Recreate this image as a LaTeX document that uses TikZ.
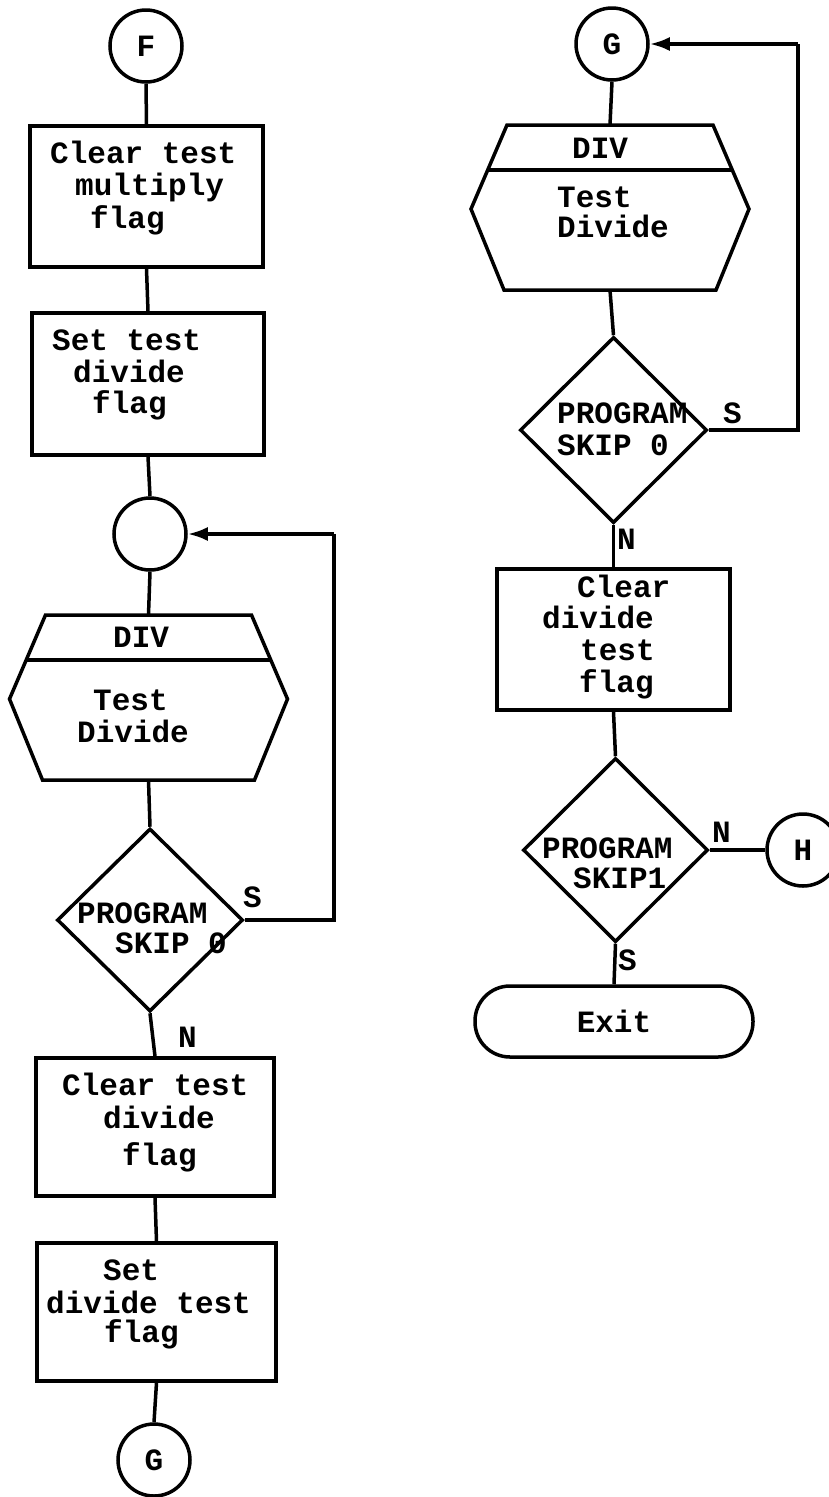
\documentclass[tikz,border=0pt]{standalone}
\usepackage{fontspec}
\newfontfamily\tw{Liberation Mono}
\usetikzlibrary{shapes.geometric,arrows.meta,calc}
\newcommand\drawhex[1]{%
  \draw[ln] ($(#1)+(-103,-82.5)$) -- ($(#1)+(103,-82.5)$) -- ($(#1)+(139,1.5)$)
    -- ($(#1)+(106,82.5)$) -- ($(#1)+(-106,82.5)$) -- ($(#1)+(-139,1.5)$) -- cycle;
  \draw[ln] ($(#1)+(-122.3,-37.5)$) -- ($(#1)+(122.3,-37.5)$);}
\begin{document}
\begin{tikzpicture}[x=1pt,y=-1pt,
  ln/.style={line width=3.5pt, line join=miter},
  fnt/.style={font=\tw\bfseries\fontsize{31}{32}\selectfont},
  box/.style={draw, line width=3.5pt, rectangle, inner sep=0},
  conn/.style={draw, circle, line width=3.5pt, minimum size=72pt, inner sep=0, fnt},
  dia/.style={draw, diamond, line width=3.5pt, inner sep=0},
  hexn/.style={minimum width=278pt, minimum height=165pt, inner sep=0},
  tx/.style={anchor=base west, inner sep=0, fnt},
  arr/.style={line width=3.5pt, -{Latex[length=20pt,width=14pt]}},
]
\clip (0,0) rectangle (829,1497);
\fill[white] (0,0) rectangle (829,1497);

% ---------- left column ----------
\node[conn] (F) at (146,46) {F};
\node[box, minimum width=233pt, minimum height=141pt] (b1) at (146.5,196.5) {};
\node[box, minimum width=232pt, minimum height=142pt] (b2) at (148,384) {};
\node[conn] (c2) at (150,534) {};
\node[hexn] (h1) at (148.5,697.5) {};
\drawhex{h1}
\node[dia, minimum width=186pt, minimum height=183pt] (d1) at (150,920) {};
\node[box, minimum width=238pt, minimum height=138pt] (b3) at (155,1127) {};
\node[box, minimum width=239pt, minimum height=138pt] (b4) at (156.5,1312) {};
\node[conn] (G1) at (154,1460) {G};

\node[tx] (t1a) at (50,163) {Clear test};
\node[tx] (t1b) at (75,195) {multiply};
\node[tx] (t1c) at (90,228) {flag};
\node[tx] (t2a) at (52,350) {Set test};
\node[tx] (t2b) at (73,382) {divide};
\node[tx] (t2c) at (92,413) {flag};
\node[tx] (t3a) at (113,647) {DIV};
\node[tx] (t3b) at (93,710) {Test};
\node[tx] (t3c) at (77,742) {Divide};
\node[tx] (t4a) at (77,923) {PROGRAM};
\node[tx] (t4b) at (115,953) {SKIP 0};
\node[tx] (t5a) at (62,1095) {Clear test};
\node[tx] (t5b) at (103,1128) {divide};
\node[tx] (t5c) at (122,1165) {flag};
\node[tx] (t6a) at (103,1280) {Set};
\node[tx] (t6b) at (46,1313) {divide test};
\node[tx] (t6c) at (104,1342) {flag};
\node[tx] (lS1) at (243,907) {S};
\node[tx] (lN1) at (178,1047) {N};

\draw[ln] (F.south) -- (b1.north);
\draw[ln] (b1.south) -- (b2.north);
\draw[ln] (b2.south) -- (c2.north);
\draw[ln] (c2.south) -- (h1.north);
\draw[ln] (h1.south) -- (d1.north);
\draw[ln] (d1.south) -- (b3.north);
\draw[ln] (b3.south) -- (b4.north);
\draw[ln] (b4.south) -- (G1.north);
\coordinate (lp1) at (334,534);
\draw[ln] (d1.east) -| (lp1);
\draw[arr] (lp1) -- (c2.east);

% ---------- right column ----------
\node[conn] (G2) at (612,44) {G};
\node[hexn] (h2) at (610,207.5) {};
\drawhex{h2}
\node[dia, minimum width=187pt, minimum height=186pt] (d2) at (613.5,430) {};
\node[box, minimum width=233pt, minimum height=141pt] (b5) at (613.5,639.5) {};
\node[dia, minimum width=185pt, minimum height=184pt] (d3) at (615.5,850) {};
\node[conn] (H) at (803,850) {H};
\node[draw, line width=3.5pt, rectangle, rounded corners=35pt, minimum width=278pt, minimum height=71pt, inner sep=0, fnt] (ex) at (614,1021.5) {Exit};

\node[tx] (t7a) at (572,158) {DIV};
\node[tx] (t7b) at (557,207) {Test};
\node[tx] (t7c) at (557,237) {Divide};
\node[tx] (t8a) at (557,423) {PROGRAM};
\node[tx] (t8b) at (557,455) {SKIP 0};
\node[tx] (t9a) at (577,597) {Clear};
\node[tx] (t9b) at (542,628) {divide};
\node[tx] (t9c) at (580,660) {test};
\node[tx] (t9d) at (579,692) {flag};
\node[tx] (t10a) at (542,858) {PROGRAM};
\node[tx] (t10b) at (573,888) {SKIP1};
\node[tx] (lS2) at (723,423) {S};
\node[tx] (lN2) at (617,549) {N};
\node[tx] (lN3) at (712,842) {N};
\node[tx] (lS3) at (618,970) {S};

\draw[ln] (G2.south) -- (h2.north);
\draw[ln] (h2.south) -- (d2.north);
\draw[ln] (d2.south) -- (b5.north);
\draw[ln] (b5.south) -- (d3.north);
\draw[ln] (d3.south) -- (ex.north);
\draw[ln] (d3.east) -- (H.west);
\coordinate (lp2) at (798,44);
\draw[ln] (d2.east) -| (lp2);
\draw[arr] (lp2) -- (G2.east);
\end{tikzpicture}
\end{document}
